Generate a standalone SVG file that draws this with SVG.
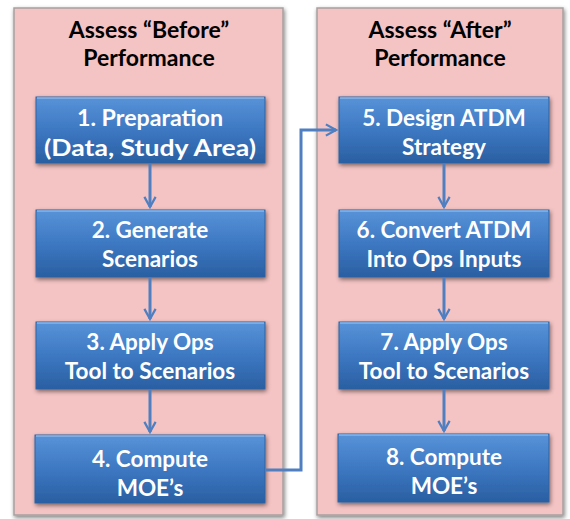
<svg xmlns="http://www.w3.org/2000/svg" width="570" height="519" viewBox="0 0 570 519">
<defs>
<linearGradient id="bg" x1="0" y1="0" x2="0" y2="1">
<stop offset="0" stop-color="#5893d8"/>
<stop offset="0.5" stop-color="#3d78c2"/>
<stop offset="1" stop-color="#2a5fa2"/>
</linearGradient>
<filter id="sh" x="-10%" y="-10%" width="125%" height="130%">
<feGaussianBlur in="SourceAlpha" stdDeviation="2"/>
<feOffset dx="1" dy="2"/>
<feComponentTransfer><feFuncA type="linear" slope="0.5"/></feComponentTransfer>
<feMerge><feMergeNode/><feMergeNode in="SourceGraphic"/></feMerge>
</filter>
<marker id="ah" viewBox="0 0 12 12" refX="10" refY="6" markerWidth="4.5" markerHeight="4.5" orient="auto" markerUnits="strokeWidth">
<path d="M1,1 L10,6 L1,11" fill="none" stroke="#4f7fc0" stroke-width="2"/>
</marker>
</defs>
<style>
.panel{fill:#f4c3c3;stroke:#a8a0a0;stroke-width:1.5}
.box{fill:url(#bg);stroke:#2f63a3;stroke-width:1}
.hl{fill:none;stroke:#8ab4e8;stroke-width:1.5}
.t{font-family:Lato,"Open Sans","Liberation Sans",sans-serif;font-weight:bold;font-size:22.5px;fill:#fff;text-anchor:middle}
.h{font-family:Lato,"Open Sans","Liberation Sans",sans-serif;font-weight:bold;font-size:23px;fill:#000;text-anchor:middle}
.c{fill:none;stroke:#4f7fc0;stroke-width:3;marker-end:url(#ah)}
</style>
<rect width="570" height="519" fill="#fff"/>
<g id="panel-before">
<rect class="panel" x="14" y="8" width="269" height="507" filter="url(#sh)"/>
<text class="h" x="149" y="38">Assess “Before”</text>
<text class="h" x="149" y="66">Performance</text>
</g>
<g id="panel-after">
<rect class="panel" x="317" y="8" width="246" height="507" filter="url(#sh)"/>
<text class="h" x="440" y="38">Assess “After”</text>
<text class="h" x="440" y="66">Performance</text>
</g>
<g id="n1">
<rect class="box" x="36" y="97" width="229" height="66" filter="url(#sh)"/>
<line class="hl" x1="37" y1="98" x2="264" y2="98"/>
<text class="t" x="150" y="126" textLength="146" lengthAdjust="spacingAndGlyphs">1. Preparation</text>
<text class="t" x="150" y="156" textLength="212" lengthAdjust="spacingAndGlyphs">(Data, Study Area)</text>
</g>
<g id="n2">
<rect class="box" x="36" y="210" width="229" height="67" filter="url(#sh)"/>
<line class="hl" x1="37" y1="211" x2="264" y2="211"/>
<text class="t" x="150" y="238">2. Generate</text>
<text class="t" x="150" y="267">Scenarios</text>
</g>
<g id="n3">
<rect class="box" x="36" y="322" width="229" height="67" filter="url(#sh)"/>
<line class="hl" x1="37" y1="323" x2="264" y2="323"/>
<text class="t" x="150" y="350">3. Apply Ops</text>
<text class="t" x="150" y="379">Tool to Scenarios</text>
</g>
<g id="n4">
<rect class="box" x="35" y="435" width="230" height="68" filter="url(#sh)"/>
<line class="hl" x1="36" y1="436" x2="264" y2="436"/>
<text class="t" x="150" y="467">4. Compute</text>
<text class="t" x="150" y="496">MOE’s</text>
</g>
<g id="n5">
<rect class="box" x="339" y="97" width="210" height="66" filter="url(#sh)"/>
<line class="hl" x1="340" y1="98" x2="548" y2="98"/>
<text class="t" x="444" y="126">5. Design ATDM</text>
<text class="t" x="444" y="155">Strategy</text>
</g>
<g id="n6">
<rect class="box" x="339" y="210" width="210" height="67" filter="url(#sh)"/>
<line class="hl" x1="340" y1="211" x2="548" y2="211"/>
<text class="t" x="444" y="238">6. Convert ATDM</text>
<text class="t" x="444" y="267">Into Ops Inputs</text>
</g>
<g id="n7">
<rect class="box" x="339" y="322" width="210" height="67" filter="url(#sh)"/>
<line class="hl" x1="340" y1="323" x2="548" y2="323"/>
<text class="t" x="444" y="350">7. Apply Ops</text>
<text class="t" x="444" y="379">Tool to Scenarios</text>
</g>
<g id="n8">
<rect class="box" x="338" y="434" width="211" height="68" filter="url(#sh)"/>
<line class="hl" x1="339" y1="435" x2="548" y2="435"/>
<text class="t" x="444" y="465">8. Compute</text>
<text class="t" x="444" y="494">MOE’s</text>
</g>
<g id="connectors">
<line class="c" x1="150" y1="164" x2="150" y2="207"/>
<line class="c" x1="150" y1="278" x2="150" y2="319"/>
<line class="c" x1="150" y1="390" x2="150" y2="432"/>
<line class="c" x1="444" y1="164" x2="444" y2="207"/>
<line class="c" x1="444" y1="278" x2="444" y2="319"/>
<line class="c" x1="444" y1="390" x2="444" y2="431"/>
<polyline class="c" points="265,470 301,470 301,130 336,130"/>
</g>
</svg>
